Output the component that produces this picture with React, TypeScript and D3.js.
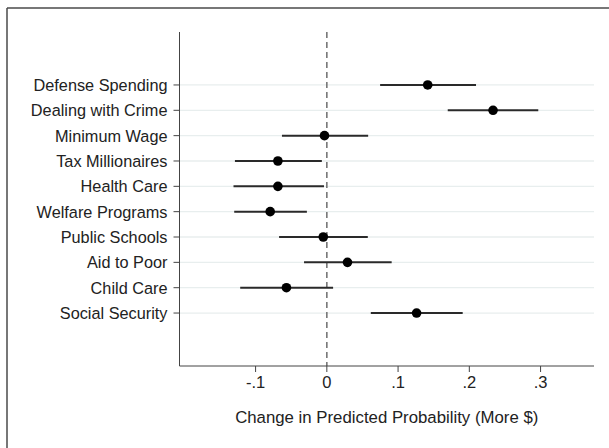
import React from "react";
import * as d3 from "d3";

const categories = [
  "Defense Spending",
  "Dealing with Crime",
  "Minimum Wage",
  "Tax Millionaires",
  "Health Care",
  "Welfare Programs",
  "Public Schools",
  "Aid to Poor",
  "Child Care",
  "Social Security",
];
const estimates = [0.1416, 0.2333, -0.0033, -0.0687, -0.0687, -0.0795, -0.005, 0.029, -0.0567, 0.126];
const lower = [0.0748, 0.1697, -0.063, -0.129, -0.131, -0.13, -0.067, -0.032, -0.1216, 0.0617];
const upper = [0.2094, 0.2968, 0.058, -0.007, -0.004, -0.028, 0.0575, 0.091, 0.0088, 0.1907];
const xTicks = [-0.1, 0, 0.1, 0.2, 0.3];
const xTickLabels = ["-.1", "0", ".1", ".2", ".3"];
const xTitle = "Change in Predicted Probability (More $)";

const W = 609;
const H = 448;
const left = 179.5;
const right = 594;
const top = 32;
const bottom = 366;
const font = "'Liberation Sans', Arial, sans-serif";

export default function App() {
  const x = d3.scaleLinear().domain([-0.2068, 0.375]).range([left, right]);
  const y = d3.scaleLinear().domain([-2.09, 11.09]).range([top, bottom]);
  const idx = d3.range(categories.length);
  return (
    <svg width={W} height={H} style={{ position: "absolute", left: 0, top: 0, background: "#fff" }}>
      <rect x={0} y={0} width={W} height={H} fill="#fff" />
      {/* outer frame */}
      <line x1={7} y1={8} x2={W} y2={8} stroke="#4a4a4a" strokeWidth={1.5} />
      <line x1={7} y1={8} x2={7} y2={H} stroke="#4a4a4a" strokeWidth={1.5} />
      {/* grid lines */}
      {idx.map((i) => (
        <line key={"g" + i} x1={left} x2={right} y1={y(i)} y2={y(i)} stroke="#e8eeee" strokeWidth={1.3} />
      ))}
      {/* zero reference */}
      <line x1={x(0)} x2={x(0)} y1={top} y2={bottom} stroke="#777" strokeWidth={1.6} strokeDasharray="6,4" />
      {/* axes */}
      <line x1={left} x2={left} y1={top} y2={bottom} stroke="#444" strokeWidth={1} />
      <line x1={left} x2={right} y1={bottom} y2={bottom} stroke="#444" strokeWidth={1} />
      {idx.map((i) => (
        <g key={"yl" + i}>
          <line x1={left - 6} x2={left} y1={y(i)} y2={y(i)} stroke="#444" strokeWidth={1} />
          <text x={left - 12} y={y(i)} dy="0.36em" textAnchor="end" fontFamily={font} fontSize={16.3} fill="#222">
            {categories[i]}
          </text>
        </g>
      ))}
      {xTicks.map((t, i) => (
        <g key={"xt" + i}>
          <line x1={x(t)} x2={x(t)} y1={bottom} y2={bottom + 6} stroke="#444" strokeWidth={1} />
          <text x={x(t)} y={382} dy="0.36em" textAnchor="middle" fontFamily={font} fontSize={16.5} fill="#222">
            {xTickLabels[i]}
          </text>
        </g>
      ))}
      <text x={(left + right) / 2} y={417} dy="0.36em" textAnchor="middle" fontFamily={font} fontSize={16.8} fill="#222">
        {xTitle}
      </text>
      {/* CIs and estimates */}
      {idx.map((i) => (
        <g key={"m" + i}>
          <line x1={x(lower[i])} x2={x(upper[i])} y1={y(i)} y2={y(i)} stroke="#2a2a2a" strokeWidth={2} />
          <circle cx={x(estimates[i])} cy={y(i)} r={4.8} fill="#000" />
        </g>
      ))}
    </svg>
  );
}
